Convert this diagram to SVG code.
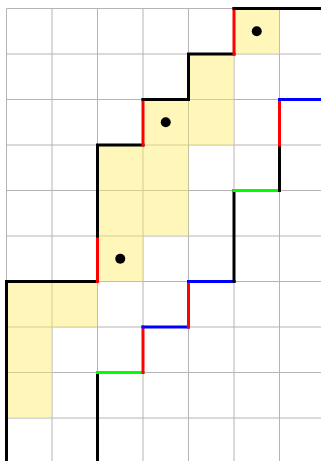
<svg xmlns="http://www.w3.org/2000/svg" width="321" height="461" viewBox="0 0 321 461">
<style>
.grid{stroke:#b4b4b4;stroke-width:1;fill:none}
.cell{fill:#ffee66;fill-opacity:0.45}
.p{fill:none;stroke-width:3;stroke-linecap:square;stroke-linejoin:miter}
.k{stroke:#000}
.r{stroke:#ff0000}
.b{stroke:#0000ff}
.g{stroke:#00ff00}
.dot{fill:#000}
</style>
<rect width="321" height="461" fill="#fff"/>
<g id="grid" class="grid">
<path d="M6.5 8.5V461M52 8.5V461M97.5 8.5V461M143 8.5V461M188.5 8.5V461M234 8.5V461M279.5 8.5V461"/>
<path d="M6.5 8.5H321M6.5 54H321M6.5 99.5H321M6.5 145H321M6.5 190.5H321M6.5 236H321M6.5 281.5H321M6.5 327H321M6.5 372.5H321M6.5 418H321"/>
</g>
<g id="cells">
<rect class="cell" x="234" y="8.5" width="45.5" height="45.5"/>
<rect class="cell" x="188.5" y="54" width="45.5" height="91"/>
<rect class="cell" x="143" y="99.5" width="45.5" height="45.5"/>
<rect class="cell" x="97.5" y="145" width="91" height="91"/>
<rect class="cell" x="97.5" y="236" width="45.5" height="45.5"/>
<rect class="cell" x="6.5" y="281.5" width="91" height="45.5"/>
<rect class="cell" x="6.5" y="327" width="45.5" height="91"/>
</g>
<g id="connectors">
<path class="p k" d="M6.5 463V281.5H97.5"/>
<path class="p r" d="M97.5 281.5V236"/>
<path class="p k" d="M97.5 236V145H143"/>
<path class="p r" d="M143 145V99.5"/>
<path class="p k" d="M143 99.5H188.5V54H234"/>
<path class="p r" d="M234 54V8.5"/>
<path class="p k" d="M234 8.5H323"/>
<path class="p k" d="M97.5 463V372.5"/>
<path class="p g" d="M97.5 372.5H143"/>
<path class="p r" d="M143 372.5V327"/>
<path class="p b" d="M143 327H188.5"/>
<path class="p r" d="M188.5 327V281.5"/>
<path class="p b" d="M188.5 281.5H234"/>
<path class="p k" d="M234 281.5V190.5"/>
<path class="p g" d="M234 190.5H279.5"/>
<path class="p k" d="M279.5 190.5V145"/>
<path class="p r" d="M279.5 145V99.5"/>
<path class="p b" d="M279.5 99.5H323"/>
</g>
<g id="dots">
<circle class="dot" cx="256.75" cy="31.25" r="5"/>
<circle class="dot" cx="165.75" cy="122.25" r="5"/>
<circle class="dot" cx="120.25" cy="258.75" r="5"/>
</g>
</svg>
